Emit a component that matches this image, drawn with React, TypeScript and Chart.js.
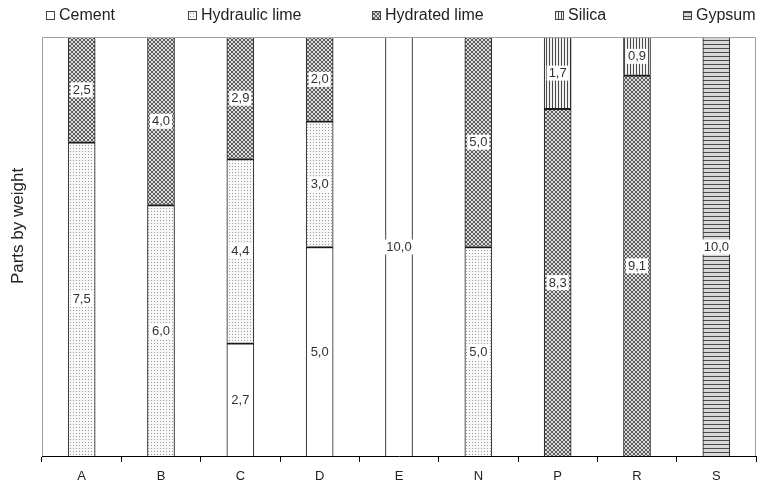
import React, { useEffect, useRef } from "react";
import { Chart, registerables } from "chart.js";

Chart.register(...registerables);

const categories = ["A", "B", "C", "D", "E", "N", "P", "R", "S"];
const seriesNames = ["Cement", "Hydraulic lime", "Hydrated lime", "Silica", "Gypsum"];
const cement = [0, 0, 2.7, 5.0, 10.0, 0, 0, 0, 0];
const hydraulicLime = [7.5, 6.0, 4.4, 3.0, 0, 5.0, 0, 0, 0];
const hydratedLime = [2.5, 4.0, 2.9, 2.0, 0, 5.0, 8.3, 9.1, 0];
const silica = [0, 0, 0, 0, 0, 0, 1.7, 0.9, 0];
const gypsum = [0, 0, 0, 0, 0, 0, 0, 0, 10.0];
const seriesValues = [cement, hydraulicLime, hydratedLime, silica, gypsum];
const yTitle = "Parts by weight";

const FONT = '"Liberation Sans", Arial, sans-serif';

function makePattern(kind: string): CanvasPattern | string {
  const c = document.createElement("canvas");
  const x = c.getContext("2d")!;
  if (kind === "cement") return "#ffffff";
  if (kind === "hydraulic") {
    c.width = 3; c.height = 3;
    x.fillStyle = "#f8f8f8"; x.fillRect(0, 0, 3, 3);
    x.fillStyle = "#9c9c9c"; x.fillRect(1, 1, 1, 1);
  } else if (kind === "hydrated") {
    c.width = 4; c.height = 4;
    x.fillStyle = "#dcdcdc"; x.fillRect(0, 0, 4, 4);
    x.fillStyle = "#5e5e5e";
    [[0,0],[1,1],[2,2],[3,3],[3,0],[2,1],[1,2],[0,3]].forEach(([a, b]) => x.fillRect(a, b, 1, 1));
  } else if (kind === "silica") {
    c.width = 3; c.height = 1;
    x.fillStyle = "#f0f0f0"; x.fillRect(0, 0, 3, 1);
    x.fillStyle = "#4a4a4a"; x.fillRect(0, 0, 1, 1);
  } else {
    c.width = 1; c.height = 4;
    x.fillStyle = "#d8d8d8"; x.fillRect(0, 0, 1, 4);
    x.fillStyle = "#4a4a4a"; x.fillRect(0, 0, 1, 1);
  }
  return x.createPattern(c, "repeat")!;
}

export default function App() {
  const ref = useRef<HTMLCanvasElement | null>(null);

  useEffect(() => {
    document.body.style.margin = "0";
    const canvas = ref.current!;
    const fills = ["cement", "hydraulic", "hydrated", "silica", "gypsum"].map(makePattern);

    const datasets = seriesNames.map((name, d) => ({
      label: name,
      data: seriesValues[d].map((v) => (v ? v : null)),
      backgroundColor: fills[d] as any,
      borderColor: "#1a1a1a",
      borderWidth: (ctx: any) => {
        const i = ctx.dataIndex;
        let topmost = true;
        for (let k = d + 1; k < seriesValues.length; k++) if (seriesValues[k][i]) topmost = false;
        return { left: 1, right: 1, top: topmost ? 0 : 2, bottom: 0 };
      },
      borderSkipped: "start" as const,
      barThickness: 27,
    }));

    const labelPlugin = {
      id: "segLabels",
      afterDatasetsDraw(chart: any) {
        const ctx = chart.ctx;
        ctx.save();
        ctx.font = `13px ${FONT}`;
        ctx.textAlign = "center";
        ctx.textBaseline = "middle";
        chart.data.datasets.forEach((ds: any, d: number) => {
          const meta = chart.getDatasetMeta(d);
          meta.data.forEach((el: any, i: number) => {
            const v = ds.data[i];
            if (v == null) return;
            const cy = (el.y + el.base) / 2;
            const txt = v.toFixed(1).replace(".", ",");
            const w = ctx.measureText(txt).width;
            ctx.fillStyle = "#ffffff";
            ctx.fillRect(el.x - w / 2 - 2, cy - 7, w + 4, 15);
            ctx.fillStyle = "#333333";
            ctx.fillText(txt, el.x, cy + 1);
          });
        });
        ctx.restore();
      },
      afterDraw(chart: any) {
        const ctx = chart.ctx;
        const a = chart.chartArea;
        ctx.save();
        ctx.strokeStyle = "#a0a0a0";
        ctx.lineWidth = 1;
        ctx.beginPath();
        ctx.moveTo(a.left + 0.5, a.bottom);
        ctx.lineTo(a.left + 0.5, a.top + 0.5);
        ctx.lineTo(a.right - 0.5, a.top + 0.5);
        ctx.lineTo(a.right - 0.5, a.bottom);
        ctx.stroke();
        ctx.fillStyle = "#222222";
        ctx.font = `17px ${FONT}`;
        ctx.textAlign = "center";
        ctx.textBaseline = "middle";
        ctx.translate(18, 226);
        ctx.rotate(-Math.PI / 2);
        ctx.fillText(yTitle, 0, 0);
        ctx.restore();
        const boxX = [46, 188, 372, 555, 683];
        ctx.save();
        ctx.font = `16px ${FONT}`;
        ctx.textBaseline = "middle";
        seriesNames.forEach((name, d) => {
          ctx.fillStyle = fills[d] as any;
          ctx.fillRect(boxX[d], 11, 9, 9);
          ctx.strokeStyle = "#444444";
          ctx.lineWidth = 1;
          ctx.strokeRect(boxX[d] + 0.5, 11.5, 8, 8);
          ctx.fillStyle = "#222222";
          ctx.fillText(name, boxX[d] + 13, 16);
        });
        ctx.restore();
      },
    };

    const chart = new Chart(canvas, {
      type: "bar",
      data: { labels: categories, datasets: datasets as any },
      options: {
        animation: false,
        responsive: false,
        maintainAspectRatio: false,
        layout: { padding: { top: 37, right: 4, left: 0, bottom: 0 } },
        plugins: { legend: { display: false }, tooltip: { enabled: false } },
        scales: {
          x: {
            stacked: true,
            grid: { offset: true, drawOnChartArea: false, drawTicks: true, tickLength: 6, color: "#000000" },
            border: { display: true, color: "#000000", width: 1 },
            ticks: { color: "#222222", font: { size: 13, family: FONT }, padding: 7 },
            afterFit: (s: any) => { s.height = 30; },
          },
          y: {
            stacked: true,
            min: 0,
            max: 10,
            grid: { display: false },
            border: { display: false },
            ticks: { display: false },
            afterFit: (s: any) => { s.width = 42; },
          },
        },
      },
      plugins: [labelPlugin],
    });
    return () => chart.destroy();
  }, []);

  return (
    <div style={{ position: "fixed", left: 0, top: 0, width: 760, height: 486, background: "#fff" }}>
      <canvas ref={ref} width={760} height={486} style={{ width: 760, height: 486 }} />
    </div>
  );
}
